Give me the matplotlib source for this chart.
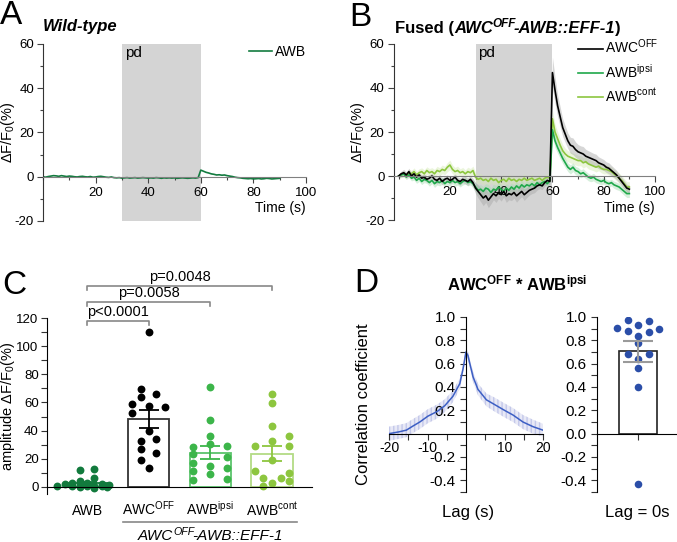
import numpy as np
import matplotlib
matplotlib.use('Agg')
import matplotlib.pyplot as plt
from matplotlib.ticker import MultipleLocator, FixedLocator, FormatStrFormatter

plt.rcParams['font.family'] = ['Liberation Sans', 'DejaVu Sans']
plt.rcParams['mathtext.fontset'] = 'custom'
plt.rcParams['mathtext.rm'] = 'Liberation Sans'
plt.rcParams['mathtext.it'] = 'Liberation Sans:italic'
plt.rcParams['mathtext.bf'] = 'Liberation Sans:bold'
plt.rcParams['axes.unicode_minus'] = False

# ---------------- data ----------------
time_s = np.arange(0, 91)  # 1 s frames, 0-90 s

# A: wild-type AWB mean trace (dF/F0 %)
wt_awb = [0.0, -0.2, 0.1, 0.3, 0.5, 0.4, 0.2, 0.5, 0.3, 0.1,
          0.3, 0.2, 0.0, -0.1, 0.1, 0.2, 0.0, -0.1, 0.1, -0.2,
          -0.1, 0.1, 0.2, 0.0, -0.2, -0.3, -0.1, -0.4, -0.5, -0.4,
          -0.6, -0.5, -0.4, -0.6, -0.5, -0.4, -0.6, -0.5, -0.4, -0.5,
          -0.6, -0.5, -0.6, -0.4, -0.5, -0.7, -0.5, -0.6, -0.5, -0.6,
          -0.5, -0.7, -0.6, -0.5, -0.6, -0.7, -0.6, -0.5, -0.6, -0.4,
          3.0, 2.5, 2.0, 1.7, 1.3, 1.1, 0.8, 0.9, 0.7, 0.8,
          0.5, 0.3, 0.1, -0.2, -0.4, -0.5, -0.7, -0.8, -0.9, -0.8,
          -1.0, -0.9, -0.8, -1.0, -0.9, -0.7, -0.8, -1.0, -0.9, -0.8, -0.7]

# B: fused animals, mean traces and SEM
awc_off = [0.0, 1.0, 1.5, 0.5, 2.0, 0.0, 1.0, -0.5, 0.5, -1.0,
           -0.5, -1.5, -1.0, 0.0, -1.5, -2.0, -1.0, -2.5, -1.5, -1.0,
           -2.0, -1.5, -0.5, -2.0, -2.5, -1.5, -2.0, -2.5, -1.5, -3.0,
           -5.5, -7.0, -8.5, -10.0, -9.0, -11.0, -9.5, -8.0, -9.0, -7.5,
           -8.5, -7.0, -9.0, -8.0, -8.5, -7.5, -9.0, -8.0, -7.0, -8.5,
           -7.5, -6.5, -6.0, -5.5, -4.5, -4.0, -4.5, -3.0, -2.0, -2.5,
           47.0, 39.0, 32.0, 27.0, 22.0, 19.0, 16.0, 14.0, 13.5, 12.0,
           11.0, 10.5, 10.0, 9.0, 8.5, 8.0, 7.5, 7.0, 6.0, 5.5,
           5.0, 4.0, 3.5, 2.5, 1.5, 0.5, -1.0, -2.5, -4.0, -5.5, -6.0]
awb_ipsi = [0.0, 0.5, 1.0, -0.5, 0.5, -1.0, -0.5, -2.0, -1.0, -2.5,
            -1.5, -2.0, -3.0, -2.0, -3.5, -2.5, -3.0, -2.0, -3.5, -2.5,
            -3.0, -2.0, -3.0, -2.5, -3.5, -2.5, -2.0, -3.0, -2.5, -3.5,
            -5.0, -6.5, -6.0, -7.0, -5.5, -6.0, -7.5, -6.0, -6.5, -5.0,
            -6.0, -7.0, -5.5, -6.5, -5.0, -6.0, -4.5, -5.5, -4.0, -5.0,
            -4.0, -4.5, -3.5, -4.5, -3.0, -4.0, -3.0, -2.5, -3.5, -2.0,
            21.0, 16.0, 13.0, 10.5, 8.0, 6.0, 4.0, 3.0, 4.0, 2.5,
            2.0, 1.0, 1.5, 0.5, -0.5, -1.0, -0.5, -1.5, -2.0, -2.5,
            -2.0, -3.0, -3.5, -3.0, -4.0, -4.5, -5.0, -6.0, -7.0, -8.0, -8.0]
awb_cont = [0.0, 0.5, 1.0, 0.0, 1.5, 1.0, 2.0, 0.5, 1.5, 2.0,
            1.0, 2.5, 1.5, 2.0, 1.0, 2.5, 2.0, 3.0, 2.5, 4.0,
            5.0, 3.0, 2.0, 2.5, 1.5, 2.0, 1.0, 2.0, 1.5, 2.5,
            -0.5, -1.5, -1.0, -2.0, -1.5, -2.5, -1.0, -2.0, -1.5, -3.0,
            -2.0, -1.5, -2.5, -1.0, -2.0, -1.5, -2.5, -1.5, -2.0, -1.0,
            -2.0, -1.5, -1.0, -2.0, -1.5, -1.0, -2.0, -1.0, -0.5, -1.0,
            26.0, 20.0, 17.0, 14.0, 11.5, 10.0, 9.0, 8.5, 8.0, 7.5,
            7.0, 7.0, 6.0, 6.5, 5.5, 5.0, 4.5, 4.0, 4.5, 3.5,
            3.0, 3.0, 2.5, 2.0, 1.0, 0.0, -1.0, -2.0, -3.5, -5.0, -5.0]
sem_awc = [1.0, 1.2, 1.5, 1.3, 1.5, 1.4, 1.2, 1.5, 1.3, 1.4,
           1.5, 1.3, 1.6, 1.4, 1.5, 1.7, 1.5, 1.6, 1.4, 1.5,
           1.6, 1.5, 1.4, 1.6, 1.7, 1.5, 1.6, 1.8, 1.6, 2.0,
           2.5, 3.0, 3.2, 3.5, 3.0, 3.4, 3.2, 2.8, 3.0, 2.7,
           2.9, 2.6, 3.0, 2.8, 2.7, 2.6, 2.9, 2.5, 2.4, 2.6,
           2.3, 2.2, 2.0, 2.1, 1.9, 1.8, 1.7, 1.6, 1.5, 1.5,
           7.0, 6.0, 5.0, 4.5, 4.0, 3.8, 3.5, 3.6, 3.8, 3.5,
           3.3, 3.2, 3.4, 3.1, 3.0, 2.9, 2.8, 2.9, 2.7, 2.6,
           2.5, 2.4, 2.5, 2.3, 2.2, 2.1, 2.0, 2.0, 1.9, 1.8, 1.8]
sem_ipsi = [0.8, 1.0, 1.2, 1.1, 1.3, 1.2, 1.4, 1.3, 1.5, 1.4,
            1.5, 1.4, 1.6, 1.5, 1.7, 1.6, 1.5, 1.7, 1.6, 1.5,
            1.6, 1.5, 1.7, 1.6, 1.5, 1.6, 1.7, 1.5, 1.6, 1.8,
            2.0, 2.2, 2.1, 2.3, 2.0, 2.2, 2.1, 2.3, 2.2, 2.0,
            2.1, 2.2, 2.0, 2.1, 1.9, 2.0, 1.9, 1.8, 1.9, 1.7,
            1.8, 1.7, 1.6, 1.7, 1.6, 1.5, 1.6, 1.5, 1.4, 1.5,
            3.5, 3.0, 2.7, 2.5, 2.3, 2.2, 2.0, 2.1, 2.0, 1.9,
            1.9, 1.8, 1.8, 1.7, 1.7, 1.6, 1.7, 1.6, 1.6, 1.5,
            1.6, 1.5, 1.6, 1.5, 1.6, 1.7, 1.6, 1.7, 1.8, 1.8, 1.8]
sem_cont = [1.0, 1.3, 1.5, 1.4, 1.6, 1.5, 1.7, 1.6, 1.8, 1.7,
            1.8, 1.7, 1.9, 1.8, 2.0, 1.9, 1.8, 2.0, 1.9, 2.1,
            2.2, 2.0, 1.9, 2.0, 1.8, 1.9, 1.8, 2.0, 1.9, 2.0,
            2.1, 2.0, 2.2, 2.1, 2.0, 2.2, 2.1, 2.0, 2.2, 2.1,
            2.0, 2.1, 1.9, 2.0, 1.9, 2.0, 1.8, 1.9, 1.8, 1.9,
            1.8, 1.7, 1.8, 1.7, 1.6, 1.7, 1.6, 1.5, 1.6, 1.5,
            4.0, 3.5, 3.2, 3.0, 2.8, 2.6, 2.5, 2.6, 2.4, 2.5,
            2.4, 2.3, 2.4, 2.2, 2.3, 2.2, 2.1, 2.2, 2.1, 2.0,
            2.1, 2.0, 2.1, 2.2, 2.1, 2.2, 2.3, 2.2, 2.3, 2.4, 2.4]

# C: response amplitudes per animal
amp_wt = [13.0, 12.0, 6.5, 4.0, 3.0, 2.5, 2.0, 2.0, 1.5, 1.5, 1.0, 1.0, 1.0, 0.5, 0.5, 0.0, 0.0, -0.5]
amp_off = [110.0, 69.4, 63.7, 66.0, 58.9, 57.8, 56.6, 52.3, 40.0, 32.9, 33.8, 27.0, 24.4, 19.2, 13.5]
amp_ipsi = [71.0, 47.3, 36.4, 30.8, 15.1, 9.5, 28.4, 23.7, 17.0, 11.1, 5.2, 29.3, 21.3, 13.5, 5.7]
amp_cont = [66.0, 59.5, 43.0, 36.5, 32.5, 29.0, 29.0, 19.0, 11.0, 10.0, 6.5, 6.5, 4.0, 2.5, 1.0]
# horizontal scatter offsets of the dots (category units)
jit_wt = [0.12, -0.12, 0.12, -0.12, 0.0, -0.24, 0.24, -0.36, 0.36, -0.12, 0.12, -0.48, 0.0, 0.24, -0.24, 0.33, -0.12, 0.12]
jit_off = [0.0, -0.12, -0.12, 0.12, -0.27, 0.0, 0.27, -0.27, 0.0, -0.12, 0.12, -0.12, 0.12, -0.12, 0.0]
jit_ipsi = [0, 0, 0, 0, 0, 0, -0.28, -0.28, -0.28, -0.28, -0.28, 0.27, 0.27, 0.27, 0.27]
jit_cont = [0, 0, 0, 0.27, 0, -0.28, 0.27, 0, -0.28, 0.27, -0.14, 0.14, 0.27, 0.0, -0.14]
cat_labels = ['AWB', r'AWC$^{\mathrm{OFF}}$', r'AWB$^{\mathrm{ipsi}}$', r'AWB$^{\mathrm{cont}}$']
p_pairs = [(0, 1), (0, 2), (0, 3)]
p_heights = [118, 131.5, 143]
p_labels = ['p<0.0001', 'p=0.0058', 'p=0.0048']

# D: cross-correlation AWC-OFF * AWB-ipsi
lag_s = [-20, -17.5, -15.5, -13.8, -12, -9.9, -7.5, -5.5, -3.4, -1.6, -0.8, 0,
         0.5, 1.8, 3.1, 5.3, 7.4, 10, 12.2, 14.8, 17.4, 20]
corr = [0.0, 0.015, 0.03, 0.065, 0.1, 0.15, 0.19, 0.24, 0.32, 0.43, 0.55, 0.70,
        0.67, 0.49, 0.38, 0.29, 0.25, 0.20, 0.16, 0.10, 0.06, 0.03]
corr_sem = [0.06, 0.06, 0.06, 0.06, 0.06, 0.06, 0.06, 0.055, 0.05, 0.045, 0.04, 0.03,
            0.035, 0.045, 0.05, 0.055, 0.06, 0.06, 0.06, 0.06, 0.06, 0.055]
corr_lag0 = [0.977, 0.965, 0.93, 0.904, 0.884, 0.87, 0.893, 0.835, 0.78, 0.681, 0.681, 0.64, 0.562, 0.403, -0.432]
jit_lag0 = [-0.167, 0.167, 0, -0.333, -0.167, 0.167, 0.333, 0, 0, -0.167, 0.167, 0, 0, 0, 0]

# ---------------- figure ----------------
W, H = 677, 542
fig = plt.figure(figsize=(W / 100, H / 100), dpi=100)


def axes_px(l, t, r, b):
    return fig.add_axes([l / W, 1 - b / H, (r - l) / W, (b - t) / H])


def ftext(x, y, s, **kw):
    return fig.text(x / W, 1 - y / H, s, **kw)


def rich_text(x, y, pieces, ha='left'):
    # pieces: (text, size, weight, style, raise_px, kern_px); y is the baseline in px
    r = fig.canvas.get_renderer()
    objs, cur = [], x
    for s, size, weight, style, dy, kern in pieces:
        t = ftext(cur, y - dy, s, fontsize=size, fontweight=weight,
                  fontstyle=style, va='baseline', ha='left')
        cur += t.get_window_extent(r).width + kern
        objs.append(t)
    if ha == 'center':
        shift = (cur - x) / 2 / W
        for t in objs:
            t.set_x(t.get_position()[0] - shift)


def style_trace_axes(ax):
    for s in ['top', 'right']:
        ax.spines[s].set_visible(False)
    ax.spines['bottom'].set_position(('data', 0))
    ax.spines['bottom'].set_color('#808080')
    ax.spines['left'].set_color('#333333')
    ax.xaxis.set_major_locator(FixedLocator([20, 40, 60, 80, 100]))
    ax.xaxis.set_minor_locator(MultipleLocator(10))
    ax.yaxis.set_major_locator(MultipleLocator(20))
    ax.yaxis.set_minor_locator(MultipleLocator(10))
    ax.tick_params(which='both', direction='out', color='#444444', width=0.8, labelsize=9.5)
    ax.tick_params(which='major', length=4)
    ax.tick_params(which='minor', length=2.5)
    ax.tick_params(axis='y', pad=2.5)
    ax.set_facecolor('none')


# ---- A ----
axA = axes_px(43, 44, 306, 221)
axA.axvspan(30, 60, color='#d4d4d4', lw=0, zorder=0)
axA.plot(time_s, wt_awb, color='#137b3f', lw=1.2, label='AWB')
axA.set_xlim(0, 100)
axA.set_ylim(-20, 60)
style_trace_axes(axA)
axA.text(31.2, 56, 'pd', fontsize=11, va='center')
axA.legend(loc='upper right', bbox_to_anchor=(1.0, 0.995), frameon=False, fontsize=10,
           handlelength=1.65, handletextpad=0.2, borderpad=0, borderaxespad=0)
ftext(11, 16, 'A', fontsize=24, ha='center', va='center')
ftext(43, 31, 'Wild-type', fontsize=12, fontweight='bold', fontstyle='italic', va='baseline')
ftext(8, 132, r'ΔF/F$_0$(%)', fontsize=10.5, rotation=90, ha='center', va='center')
ftext(306, 208, 'Time (s)', fontsize=10, ha='right', va='center')

# ---- B ----
axB = axes_px(393.5, 44, 655, 220)
axB.axvspan(30, 60, color='#d4d4d4', lw=0, zorder=0)
traces = [(awc_off, sem_awc, '#000000', '#a6a6a6', r'AWC$^{\mathrm{OFF}}$'),
          (awb_ipsi, sem_ipsi, '#1fa84a', '#a7dcb2', r'AWB$^{\mathrm{ipsi}}$'),
          (awb_cont, sem_cont, '#8cc63f', '#d3eab3', r'AWB$^{\mathrm{cont}}$')]
for vals, sem, col, band, lab in traces[::-1]:
    v, e = np.array(vals), np.array(sem)
    axB.fill_between(time_s, v - e, v + e, color=band, alpha=0.45, lw=0, zorder=1)
for vals, sem, col, band, lab in traces[::-1]:
    axB.plot(time_s, vals, color=col, lw=1.2, label=lab, zorder=2)
axB.set_xlim(-2, 100)
axB.set_ylim(-20, 60)
style_trace_axes(axB)
axB.text(31.0, 56, 'pd', fontsize=11, va='center')
h, l = axB.get_legend_handles_labels()
axB.legend(h[::-1], l[::-1], loc='upper right', bbox_to_anchor=(1.015, 1.035), frameon=False,
           fontsize=10, handlelength=1.8, handletextpad=0.15, labelspacing=0.45,
           borderpad=0, borderaxespad=0)
ftext(360, 17, 'B', fontsize=24, ha='center', va='center')
rich_text(395, 33, [('Fused (', 12, 'bold', 'normal', 0, 0),
                    ('AWC', 12, 'bold', 'italic', 0, 0),
                    ('OFF', 8.5, 'bold', 'italic', 6, -3),
                    ('-AWB::EFF-1', 12, 'bold', 'italic', 0, 0),
                    (')', 12, 'bold', 'normal', 0, 0)])
ftext(358, 132, r'ΔF/F$_0$(%)', fontsize=10.5, rotation=90, ha='center', va='center')
ftext(655, 208, 'Time (s)', fontsize=10, ha='right', va='center')

# ---- C ----
axC = axes_px(47, 275.8, 312, 494)
groups = [amp_wt, amp_off, amp_ipsi, amp_cont]
jitters = [jit_wt, jit_off, jit_ipsi, jit_cont]
dot_cols = ['#127a3d', '#000000', '#3cb54a', '#8dc63f']
edge_cols = ['#127a3d', '#333333', '#5cc46c', '#b3db85']
xc = np.arange(len(groups))
means = [np.mean(g) for g in groups]
sems = [np.std(g, ddof=1) / np.sqrt(len(g)) for g in groups]
axC.bar(xc, means, width=0.67, facecolor='white', edgecolor=edge_cols, lw=1.3, zorder=1)
for i, (g, j) in enumerate(zip(groups, jitters)):
    axC.scatter(xc[i] + np.array(j), g, s=32, color=dot_cols[i], lw=0, zorder=2)
    axC.errorbar(xc[i], means[i], yerr=sems[i], fmt='none', ecolor=dot_cols[i],
                 elinewidth=1.3, capsize=7, capthick=1.3, zorder=3)
axC.set_xlim(-0.65, 3.65)
axC.set_ylim(-5, 150)
for s in ['top', 'right']:
    axC.spines[s].set_visible(False)
axC.spines['left'].set_bounds(-5, 120)
axC.spines['bottom'].set_position(('data', 0))
axC.yaxis.set_major_locator(FixedLocator([0, 20, 40, 60, 80, 100, 120]))
axC.yaxis.set_minor_locator(FixedLocator([10, 30, 50, 70, 90, 110]))
axC.tick_params(which='both', direction='out', color='#333333', width=0.8, labelsize=9.5)
axC.tick_params(which='major', length=4, pad=2)
axC.tick_params(which='minor', length=4)
axC.set_xticks([])
axC.set_facecolor('none')
for x, lab in zip(xc, cat_labels):
    axC.text(x, -20, lab, fontsize=10, ha='center', va='baseline', clip_on=False)
axC.plot([0.58, 3.4], [-25, -25], color='#888888', lw=1.2, clip_on=False)
for (a, b), hgt, lab in zip(p_pairs, p_heights, p_labels):
    axC.plot([a, a, b, b], [hgt - 3, hgt, hgt, hgt - 3], color='#888888', lw=1.2, clip_on=False)
    axC.text((a + b) / 2, hgt + 1.5, lab, fontsize=10.5, ha='center', va='bottom')
ftext(14, 286, 'C', fontsize=24, ha='center', va='center')
ftext(8, 406, r'amplitude ΔF/F$_0$(%)', fontsize=10.5, rotation=90, ha='center', va='center')
rich_text(210, 540, [('AWC', 11, 'normal', 'italic', 0, 0),
                     ('OFF', 7.7, 'normal', 'italic', 5, -2.5),
                     ('-AWB::EFF-1', 11, 'normal', 'italic', 0, 0)], ha='center')

# ---- D left ----
axDL = axes_px(389, 317, 543, 492)
c, e = np.array(corr), np.array(corr_sem)
axDL.fill_between(lag_s, c - e, c + e, facecolor='#e8e9f6', edgecolor='#c3c8ea',
                  hatch='||||', lw=0, zorder=1)
axDL.plot(lag_s, corr, color='#3d5fc4', lw=1.1, zorder=2)
axDL.set_xlim(-20, 20)
axDL.set_ylim(-0.5, 1.0)
for s in ['top', 'right']:
    axDL.spines[s].set_visible(False)
axDL.spines['left'].set_position(('data', 0))
axDL.spines['bottom'].set_position(('data', 0))
axDL.yaxis.set_major_locator(FixedLocator([-0.4, -0.2, 0.2, 0.4, 0.6, 0.8, 1.0]))
axDL.yaxis.set_minor_locator(FixedLocator([-0.5, -0.3, -0.1, 0.1, 0.3, 0.5, 0.7, 0.9]))
axDL.yaxis.set_major_formatter(FormatStrFormatter('%.1f'))
axDL.xaxis.set_major_locator(FixedLocator([-20, -10, 10, 20]))
axDL.xaxis.set_minor_locator(FixedLocator([-15, -5, 5, 15]))
axDL.tick_params(which='both', direction='out', color='#333333', width=0.8, labelsize=11, length=4)
axDL.tick_params(axis='x', labelsize=10, pad=1)
axDL.set_facecolor('none')

# ---- D right ----
axDR = axes_px(597, 317, 677, 492)
m0 = np.mean(corr_lag0)
s0 = np.std(corr_lag0, ddof=1) / np.sqrt(len(corr_lag0))
axDR.bar([0], [m0], width=0.6, facecolor='white', edgecolor='#222222', lw=1.2, zorder=1)
axDR.scatter(np.array(jit_lag0), corr_lag0, s=30, color='#2b4ea8', lw=0, zorder=2)
axDR.errorbar([0], [m0], yerr=[s0], fmt='none', ecolor='#9a9a9a', elinewidth=1.5,
              capsize=10.5, capthick=1.5, zorder=3)
axDR.set_xlim(-0.652, 0.612)
axDR.set_ylim(-0.5, 1.0)
for s in ['top', 'right']:
    axDR.spines[s].set_visible(False)
axDR.spines['bottom'].set_position(('data', 0))
axDR.yaxis.set_major_locator(FixedLocator([-0.4, -0.2, 0.0, 0.2, 0.4, 0.6, 0.8, 1.0]))
axDR.yaxis.set_minor_locator(FixedLocator([-0.5, -0.3, -0.1, 0.1, 0.3, 0.5, 0.7, 0.9]))
axDR.yaxis.set_major_formatter(FormatStrFormatter('%.1f'))
axDR.set_xticks([0])
axDR.set_xticklabels([''])
axDR.tick_params(which='both', direction='out', color='#333333', width=0.8, labelsize=11, length=4)
axDR.set_facecolor('none')

ftext(366, 283, 'D', fontsize=24, ha='center', va='center')
ftext(517, 283, r'AWC$^{\mathbf{OFF}}$ * AWB$^{\mathbf{ipsi}}$', fontsize=12,
      fontweight='bold', ha='center', va='center')
ftext(363, 404, 'Correlation coefficient', fontsize=12, rotation=90, ha='center', va='center')
ftext(468, 512, 'Lag (s)', fontsize=12, ha='center', va='center')
ftext(637, 512, 'Lag = 0s', fontsize=12, ha='center', va='center')

fig.savefig('out.png', dpi=100)
